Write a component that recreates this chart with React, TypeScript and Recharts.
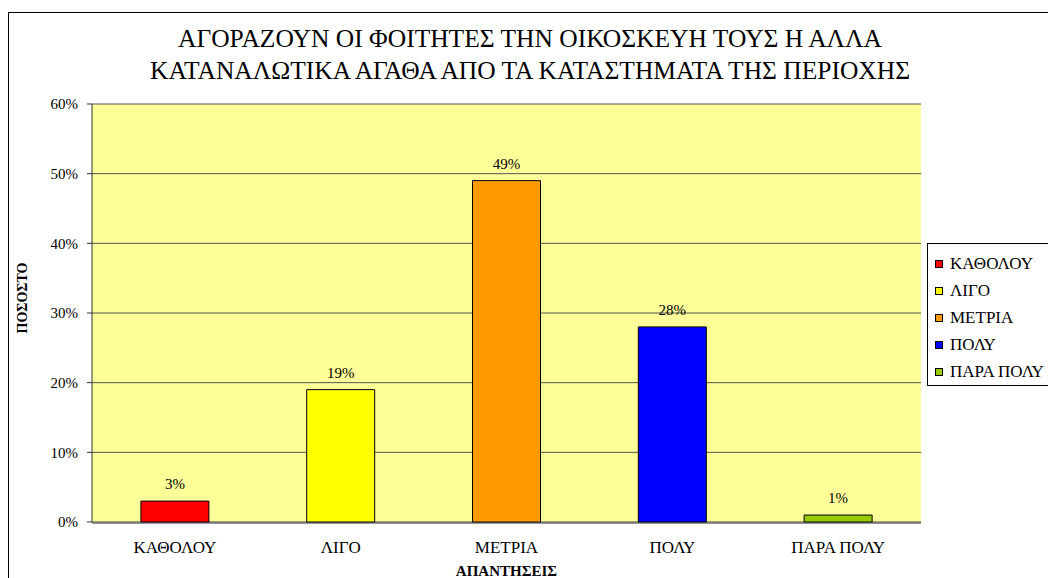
import {
  Bar,
  BarChart,
  CartesianGrid,
  Cell,
  LabelList,
  Legend,
  ReferenceArea,
  XAxis,
  YAxis,
} from 'recharts'

const categories = ['ΚΑΘΟΛΟΥ', 'ΛΙΓΟ', 'ΜΕΤΡΙΑ', 'ΠΟΛΥ', 'ΠΑΡΑ ΠΟΛΥ']
const percentages = [0.03, 0.19, 0.49, 0.28, 0.01]
const barColors = ['#FF0000', '#FFFF00', '#FF9900', '#0000FF', '#99CC00']
const yTicks = [0, 0.1, 0.2, 0.3, 0.4, 0.5, 0.6]
const boundaryTicks = [0, 1, 2, 3, 4, 5]

const titleLines = [
  'ΑΓΟΡΑΖΟΥΝ ΟΙ ΦΟΙΤΗΤΕΣ ΤΗΝ ΟΙΚΟΣΚΕΥΗ ΤΟΥΣ Η ΑΛΛΑ',
  'ΚΑΤΑΝΑΛΩΤΙΚΑ ΑΓΑΘΑ ΑΠΟ ΤΑ ΚΑΤΑΣΤΗΜΑΤΑ ΤΗΣ ΠΕΡΙΟΧΗΣ',
]

const FONT = "'Liberation Serif', 'DejaVu Serif', serif"

const data = categories.map((name, i) => ({ name, value: percentages[i] }))

const pct = (v: number) => `${Math.round(v * 100)}%`

function LegendBox() {
  return (
    <div
      style={{
        border: '1px solid #000',
        background: '#fff',
        padding: '6px 10px 0 7px',
        width: 150,
        fontFamily: FONT,
        fontSize: 17,
        color: '#000',
      }}
    >
      {categories.map((c, i) => (
        <div key={c} style={{ height: 27, lineHeight: '27px', display: 'flex', alignItems: 'center', whiteSpace: 'nowrap' }}>
          <span
            style={{
              display: 'inline-block',
              width: 6,
              height: 6,
              border: '1px solid #000',
              background: barColors[i],
              marginRight: 7,
            }}
          />
          {c}
        </div>
      ))}
    </div>
  )
}

export default function App() {
  return (
    <div style={{ position: 'absolute', left: 0, top: 0, width: 1048, height: 578, overflow: 'hidden', background: '#fff' }}>
      <div
        style={{
          position: 'absolute',
          left: 8,
          top: 12,
          width: 1100,
          height: 620,
          border: '1px solid #000',
        }}
      />
      <div
        style={{
          position: 'absolute',
          left: 8,
          top: 23,
          width: 1044,
          textAlign: 'center',
          fontFamily: FONT,
          fontSize: 25.5,
          lineHeight: '32px',
          color: '#000',
        }}
      >
        {titleLines.map((t) => (
          <div key={t}>{t}</div>
        ))}
      </div>
      <div style={{ position: 'absolute', left: 0, top: 0 }}>
        <BarChart
          width={1048}
          height={578}
          data={data}
          margin={{ top: 104, right: 127, left: 32, bottom: 54 }}
          barCategoryGap="29.5%"
        >
          <CartesianGrid xAxisId="cat" vertical={false} stroke="#555" fill="#FFFF99" fillOpacity={1} />
          <ReferenceArea xAxisId="grid" x1={0} x2={5} y1={0} y2={0.6} fill="none" stroke="#808080" />
          <XAxis
            xAxisId="grid"
            type="number"
            domain={[0, 5]}
            ticks={boundaryTicks}
            tick={false}
            tickSize={5}
            height={1}
            stroke="#333"
          />
          <XAxis
            xAxisId="cat"
            dataKey="name"
            height={1}
            axisLine={false}
            tickLine={false}
            tickSize={0}
            tickMargin={19}
            tick={{ fontFamily: FONT, fontSize: 17, fill: '#000' }}
            label={{
              content: ({ viewBox }: any) => (
                <text
                  x={viewBox.x + viewBox.width / 2}
                  y={viewBox.y + 54}
                  textAnchor="middle"
                  fontFamily={FONT}
                  fontSize={15}
                  fontWeight="bold"
                  fill="#000"
                >
                  ΑΠΑΝΤΗΣΕΙΣ
                </text>
              ),
            }}
          />
          <YAxis
            width={60}
            domain={[0, 0.6]}
            ticks={yTicks}
            tickFormatter={pct}
            tickSize={5}
            tickMargin={9}
            stroke="#333"
            tick={{ fontFamily: FONT, fontSize: 15, fill: '#000' }}
            label={{
              content: ({ viewBox }: any) => {
                const x = viewBox.x - 10
                const y = viewBox.y + viewBox.height / 2 - 15
                return (
                  <text
                    x={x}
                    y={y}
                    transform={`rotate(-90 ${x} ${y})`}
                    textAnchor="middle"
                    dominantBaseline="central"
                    fontFamily={FONT}
                    fontSize={14}
                    fontWeight="bold"
                    fill="#000"
                  >
                    ΠΟΣΟΣΤΟ
                  </text>
                )
              },
            }}
          />
          <Legend
            layout="vertical"
            align="center"
            verticalAlign="middle"
            content={() => <LegendBox />}
            wrapperStyle={{ left: 927, top: 243, width: 160 }}
          />
          <Bar xAxisId="cat" dataKey="value" stroke="#000" strokeWidth={1} isAnimationActive={false}>
            {data.map((d, i) => (
              <Cell key={d.name} fill={barColors[i]} />
            ))}
            <LabelList
              dataKey="value"
              position="top"
              offset={12}
              formatter={(v: any) => pct(Number(v))}
              style={{ fontFamily: FONT, fontSize: 15, fill: '#000' }}
            />
          </Bar>
        </BarChart>
      </div>
    </div>
  )
}
